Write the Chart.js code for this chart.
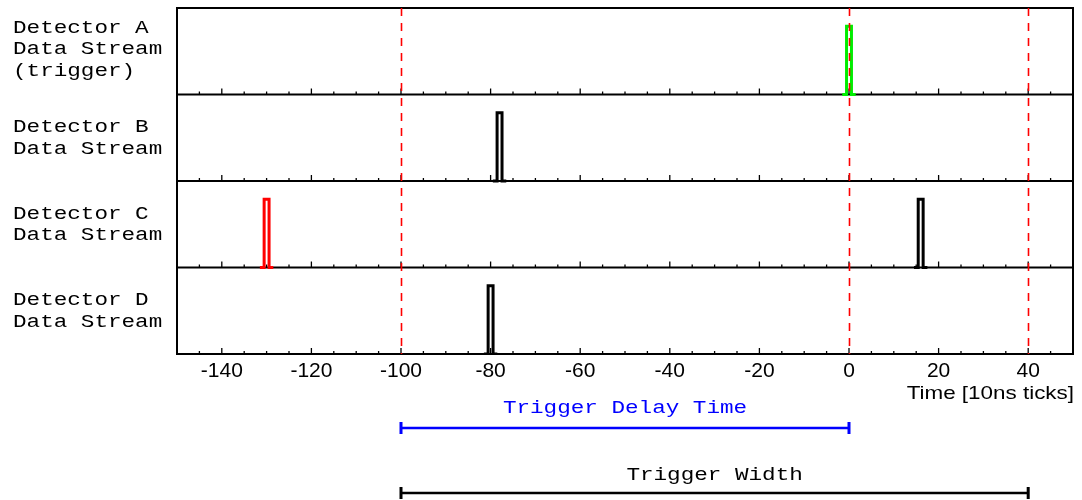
<!DOCTYPE html>
<html>
<head>
<meta charset="utf-8">
<script src="https://cdn.jsdelivr.net/npm/chart.js@4.4.1/dist/chart.umd.min.js"></script>
<style>
  html, body { margin: 0; padding: 0; background: #fff; }
  #wrap { width: 1082px; height: 500px; position: relative; }
</style>
</head>
<body>
<div id="wrap"><canvas id="timing"></canvas></div>
<script>
// ---- data ----
const xTickValues = [-140, -120, -100, -80, -60, -40, -20, 0, 20, 40];
const panelLabels = [
  ['Detector A', 'Data Stream', '(trigger)'],
  ['Detector B', 'Data Stream'],
  ['Detector C', 'Data Stream'],
  ['Detector D', 'Data Stream']
];
// pulse times in 10ns ticks, one array per detector
const pulsesA = [0];
const pulsesB = [-78];
const pulsesC = [-130, 16];
const pulsesD = [-80];
const colorsA = ['#00ee00'];
const colorsB = ['#000000'];
const colorsC = ['#ff0000', '#000000'];
const colorsD = ['#000000'];
const pulseHeight = 0.79;
const markerTimes = [-100, 0, 40];
const delayWindow = [-100, 0];
const widthWindow = [-100, 40];

// each panel is one unit tall, A on top
const panelCount = panelLabels.length;

function pulseShape(t, panel) {
  const base = panelCount - 1 - panel;
  return [
    { x: t - 1.5, y: base },
    { x: t - 0.55, y: base },
    { x: t - 0.55, y: base + pulseHeight },
    { x: t + 0.55, y: base + pulseHeight },
    { x: t + 0.55, y: base },
    { x: t + 1.5, y: base }
  ];
}

const datasets = [];
[[pulsesA, colorsA], [pulsesB, colorsB], [pulsesC, colorsC], [pulsesD, colorsD]].forEach(([times, colors], panel) => {
  times.forEach((t, i) => {
    datasets.push({
      data: pulseShape(t, panel),
      borderColor: colors[i],
      borderWidth: 3,
      borderJoinStyle: 'miter',
      pointRadius: 0,
      tension: 0,
      fill: false
    });
  });
});

// stretched text helper (fonts in the figure are wide)
function wideText(ctx, text, x, y, sx, align) {
  ctx.save();
  ctx.translate(x, y);
  ctx.scale(sx, 1);
  ctx.textAlign = align || 'left';
  ctx.textBaseline = 'middle';
  ctx.fillText(text, 0, 0);
  ctx.restore();
}

const timingDecor = {
  id: 'timingDecor',
  beforeDatasetsDraw(chart) {
    const { ctx, chartArea: a, scales: { x, y } } = chart;
    ctx.save();
    ctx.strokeStyle = '#000';
    ctx.lineWidth = 2;
    // frame
    ctx.strokeRect(a.left, a.top, a.right - a.left, a.bottom - a.top);
    // panel baselines with inward ticks
    for (let p = 0; p < panelCount; p++) {
      const yb = y.getPixelForValue(p);
      ctx.beginPath();
      ctx.moveTo(a.left, yb);
      ctx.lineTo(a.right, yb);
      ctx.stroke();
      ctx.lineWidth = 1.3;
      for (let v = -145; v <= 50; v += 5) {
        const px = x.getPixelForValue(v);
        if (px <= a.left + 1 || px >= a.right - 1) continue;
        const len = v % 20 === 0 ? 6 : 3;
        ctx.beginPath();
        ctx.moveTo(px, yb);
        ctx.lineTo(px, yb - len);
        ctx.stroke();
      }
      ctx.lineWidth = 2;
    }
    ctx.restore();
  },
  afterDatasetsDraw(chart) {
    const { ctx, chartArea: a, scales: { x, y } } = chart;
    ctx.save();

    // trigger markers
    ctx.strokeStyle = '#ff0000';
    ctx.lineWidth = 1.6;
    ctx.setLineDash([8, 7]);
    markerTimes.forEach(t => {
      const px = Math.round(x.getPixelForValue(t)) + 0.5;
      ctx.beginPath();
      ctx.moveTo(px, a.top);
      ctx.lineTo(px, a.bottom);
      ctx.stroke();
    });
    ctx.setLineDash([]);

    // panel names
    ctx.fillStyle = '#000';
    ctx.font = '19px "Liberation Mono", "Courier New", monospace';
    panelLabels.forEach((lines, p) => {
      const cy = y.getPixelForValue(panelCount - 1 - p + 0.5) - (p === 0 ? 2 : 0);
      const lh = 21.5;
      lines.forEach((s, i) => {
        wideText(ctx, s, 13, cy + (i - (lines.length - 1) / 2) * lh, 1.19);
      });
    });

    // axis title
    ctx.font = '19px "Liberation Sans", Arial, sans-serif';
    wideText(ctx, 'Time [10ns ticks]', a.right + 1, 394, 1.18, 'right');

    // window bars
    function windowBar(range, yy, color, label, ly) {
      const x0 = x.getPixelForValue(range[0]);
      const x1 = x.getPixelForValue(range[1]);
      ctx.strokeStyle = color;
      ctx.lineWidth = 2.6;
      ctx.beginPath();
      ctx.moveTo(x0, yy);
      ctx.lineTo(x1, yy);
      ctx.stroke();
      ctx.lineWidth = 3;
      ctx.beginPath();
      ctx.moveTo(x0, yy - 6);
      ctx.lineTo(x0, yy + 6);
      ctx.moveTo(x1, yy - 6);
      ctx.lineTo(x1, yy + 6);
      ctx.stroke();
      ctx.fillStyle = color;
      ctx.font = '19px "Liberation Mono", "Courier New", monospace';
      wideText(ctx, label, (x0 + x1) / 2, ly, 1.19, 'center');
    }
    windowBar(delayWindow, 428, '#0000ff', 'Trigger Delay Time', 408);
    windowBar(widthWindow, 493, '#000000', 'Trigger Width', 475);

    ctx.restore();
  }
};

new Chart(document.getElementById('timing'), {
  type: 'line',
  data: { datasets },
  plugins: [timingDecor],
  options: {
    responsive: true,
    maintainAspectRatio: false,
    animation: false,
    layout: { padding: { left: 177, right: 9, top: 8, bottom: 0 } },
    plugins: { legend: { display: false }, tooltip: { enabled: false } },
    scales: {
      x: {
        type: 'linear',
        min: -150,
        max: 50,
        afterBuildTicks: s => { s.ticks = xTickValues.map(v => ({ value: v })); },
        afterFit: s => { s.height = 146; },
        grid: { display: false, drawTicks: false },
        border: { display: false },
        ticks: {
          autoSkip: false,
          maxRotation: 0,
          padding: 5,
          color: '#000',
          font: { family: '"Liberation Sans", Arial, sans-serif', size: 21 }
        }
      },
      y: {
        type: 'linear',
        min: 0,
        max: panelCount,
        display: false
      }
    }
  }
});
</script>
</body>
</html>
